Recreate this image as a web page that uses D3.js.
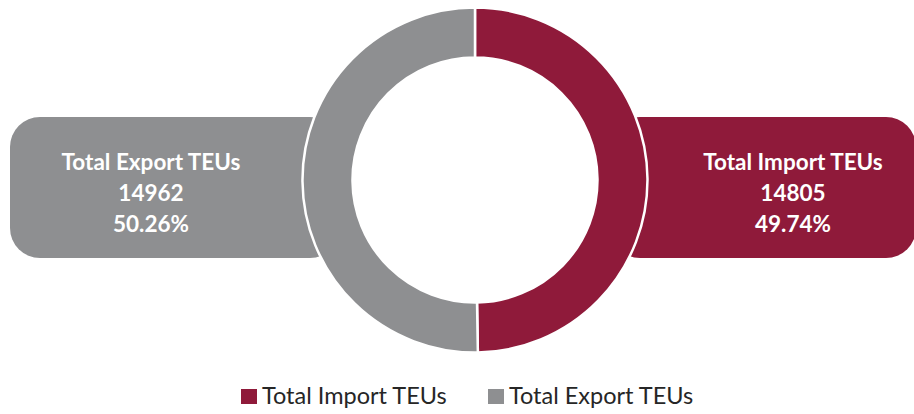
<!DOCTYPE html>
<html>
<head>
<meta charset="utf-8">
<script src="https://cdn.jsdelivr.net/npm/d3@7"></script>
<style>
  html, body { margin: 0; padding: 0; background: #fff; }
  svg { display: block; }
  text { font-family: Lato, "Open Sans", sans-serif; }
</style>
</head>
<body>
<svg id="chart" width="914" height="414"></svg>
<script>
// TEU totals
const categories = ["Total Import TEUs", "Total Export TEUs"];
const values = [14805, 14962];
const percentLabels = ["49.74%", "50.26%"];
const colors = ["#8f1a3a", "#8e8f91"];

const svg = d3.select("#chart");
const cx = 475, cy = 180;
const outerR = 172.5, innerR = 122.5;

const color = d3.scaleOrdinal().domain(categories).range(colors);
const data = categories.map((c, i) => ({ name: c, value: values[i], pct: percentLabels[i] }));

// Callout boxes behind the ring
const boxY = 117, boxH = 141, rx = 30;
const callouts = [
  { name: categories[1], x: 10, w: 330, tx: 151 },
  { name: categories[0], x: 610, w: 306, tx: 793 }
];
const boxG = svg.append("g");
callouts.forEach(c => {
  const d = data.find(v => v.name === c.name);
  boxG.append("rect")
    .attr("x", c.x).attr("y", boxY)
    .attr("width", c.w).attr("height", boxH)
    .attr("rx", rx).attr("ry", rx)
    .attr("fill", color(c.name));
  const t = boxG.append("text")
    .attr("x", c.tx)
    .attr("text-anchor", "middle")
    .attr("fill", "#fff")
    .attr("font-weight", 700)
    .attr("font-size", 22.5);
  [d.name, String(d.value), d.pct].forEach((line, i) => {
    t.append("tspan").attr("x", c.tx).attr("y", 170 + i * 31).text(line);
  });
});

// Donut
const pie = d3.pie().sort(null).value(d => d.value);
const arc = d3.arc().innerRadius(innerR).outerRadius(outerR);
svg.append("g")
  .attr("transform", `translate(${cx},${cy})`)
  .selectAll("path")
  .data(pie(data))
  .join("path")
  .attr("d", arc)
  .attr("fill", d => color(d.data.name))
  .attr("stroke", "#fff")
  .attr("stroke-width", 2.5);

// Legend
const legend = svg.append("g").attr("transform", "translate(0,389)");
const legendItems = [
  { name: categories[0], x: 241 },
  { name: categories[1], x: 488 }
];
legendItems.forEach(li => {
  legend.append("rect")
    .attr("x", li.x).attr("y", 0)
    .attr("width", 16).attr("height", 15)
    .attr("fill", color(li.name));
  legend.append("text")
    .attr("x", li.x + 21).attr("y", 15)
    .attr("fill", "#262626")
    .attr("font-size", 23.5)
    .text(li.name);
});
</script>
</body>
</html>
